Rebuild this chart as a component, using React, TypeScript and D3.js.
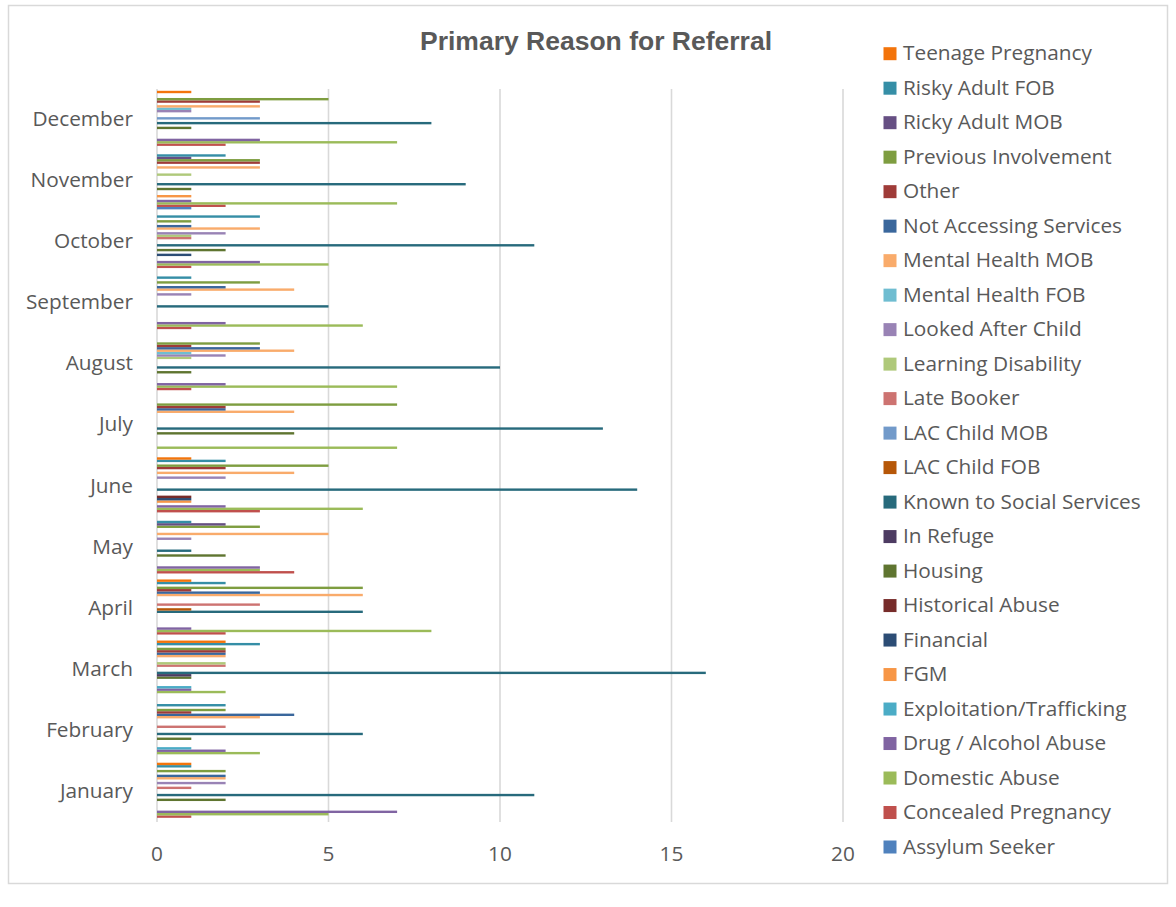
import React from 'react';
import * as d3 from 'd3';

// ---------- DATA ----------
const months = ['January', 'February', 'March', 'April', 'May', 'June', 'July', 'August', 'September', 'October', 'November', 'December'];

// Series in chart order (first series drawn at the bottom of each month group)
const seriesNames = [
  'Assylum Seeker', 'Concealed Pregnancy', 'Domestic Abuse', 'Drug / Alcohol Abuse',
  'Exploitation/Trafficking', 'FGM', 'Financial', 'Historical Abuse', 'Housing', 'In Refuge',
  'Known to Social Services', 'LAC Child FOB', 'LAC Child MOB', 'Late Booker', 'Learning Disability',
  'Looked After Child', 'Mental Health FOB', 'Mental Health MOB', 'Not Accessing Services', 'Other',
  'Previous Involvement', 'Ricky Adult MOB', 'Risky Adult FOB', 'Teenage Pregnancy',
];

//                          Jan Feb Mar Apr May Jun Jul Aug Sep Oct Nov Dec
const assylumSeeker       = [0, 0, 0, 0, 0, 0, 0, 0, 0, 0, 1, 0];
const concealedPregnancy  = [1, 0, 0, 2, 4, 3, 0, 1, 1, 1, 2, 2];
const domesticAbuse       = [5, 3, 2, 8, 3, 6, 7, 7, 6, 5, 7, 7];
const drugAlcoholAbuse    = [7, 2, 1, 1, 3, 2, 0, 2, 2, 3, 1, 3];
const exploitation        = [0, 1, 1, 0, 0, 0, 0, 0, 0, 0, 0, 0];
const fgm                 = [0, 0, 0, 0, 0, 1, 0, 0, 0, 0, 1, 0];
const financial           = [0, 0, 0, 0, 0, 1, 0, 0, 0, 1, 0, 0];
const historicalAbuse     = [0, 0, 0, 0, 0, 1, 0, 0, 0, 0, 0, 0];
const housing             = [2, 1, 1, 0, 2, 0, 4, 1, 0, 2, 1, 1];
const inRefuge            = [0, 0, 1, 0, 0, 0, 0, 0, 0, 0, 0, 0];
const knownToSocial       = [11, 6, 16, 6, 1, 14, 13, 10, 5, 11, 9, 8];
const lacChildFob         = [0, 0, 0, 1, 0, 0, 0, 0, 0, 0, 0, 0];
const lacChildMob         = [0, 0, 0, 0, 0, 0, 0, 0, 0, 0, 0, 3];
const lateBooker          = [1, 2, 2, 3, 0, 0, 0, 0, 0, 1, 0, 0];
const learningDisability  = [0, 0, 2, 0, 0, 0, 0, 1, 0, 1, 1, 0];
const lookedAfterChild    = [2, 0, 0, 0, 1, 2, 0, 2, 1, 2, 0, 1];
const mentalHealthFob     = [0, 0, 0, 0, 0, 0, 0, 1, 0, 0, 0, 1];
const mentalHealthMob     = [2, 3, 2, 6, 5, 4, 4, 4, 4, 3, 3, 3];
const notAccessing        = [2, 4, 2, 3, 0, 0, 2, 3, 2, 1, 0, 0];
const other               = [0, 1, 2, 1, 0, 2, 2, 1, 0, 0, 3, 3];
const previousInvolvement = [2, 2, 2, 6, 3, 5, 7, 3, 3, 1, 3, 5];
const rickyAdultMob       = [0, 0, 0, 0, 2, 0, 0, 0, 0, 0, 1, 0];
const riskyAdultFob       = [1, 2, 3, 2, 1, 2, 0, 0, 1, 3, 2, 0];
const teenagePregnancy    = [1, 0, 2, 1, 0, 1, 0, 0, 0, 0, 0, 1];

const seriesValues = [
  assylumSeeker, concealedPregnancy, domesticAbuse, drugAlcoholAbuse, exploitation, fgm,
  financial, historicalAbuse, housing, inRefuge, knownToSocial, lacChildFob,
  lacChildMob, lateBooker, learningDisability, lookedAfterChild, mentalHealthFob, mentalHealthMob,
  notAccessing, other, previousInvolvement, rickyAdultMob, riskyAdultFob, teenagePregnancy,
];

const xTicks = [0, 5, 10, 15, 20];
const title = 'Primary Reason for Referral';

// ---------- STYLE ----------
const accents = ['#4F81BD', '#C0504D', '#9BBB59', '#8064A2', '#4BACC6', '#F79646'];
function seriesColor(i: number): string {
  const c = d3.hsl(accents[i % 6]);
  const tier = Math.floor(i / 6);
  if (tier === 1) c.l = c.l * 0.6;
  else if (tier === 2) c.l = c.l * 0.8 + 0.2;
  else if (tier === 3) c.l = c.l * 0.8;
  return c.formatHex();
}

const W = 1176;
const H = 907;
const textColor = '#595959';
const gridColor = '#D9D9D9';
const font = '"Open Sans", sans-serif';
const fs = 20.8;

export default function App() {
  const x = d3.scaleLinear().domain([0, 20]).range([157, 843]);
  const y = d3.scaleBand<string>().domain([...months].reverse()).range([89, 822]);
  const inner = d3
    .scaleBand<string>()
    .domain([...seriesNames].reverse())
    .range([0, y.bandwidth()])
    .paddingInner(0)
    .paddingOuter(0.75);

  const legendNames = [...seriesNames].reverse();
  const legendY = d3.scalePoint<string>().domain(legendNames).range([53.7, 847]);

  return (
    <div style={{ position: 'absolute', left: 0, top: 0 }}>
      <svg width={W} height={H} style={{ display: 'block', background: '#fff' }}>
        <rect x={8.5} y={5.5} width={1159} height={878} fill="#fff" stroke={gridColor} strokeWidth={1.5} />
        <text
          x={596}
          y={41}
          textAnchor="middle"
          dominantBaseline="central"
          fontFamily='"Liberation Sans", Arial, sans-serif'
          fontWeight="bold"
          fontSize={26.5}
          fill={textColor}
        >
          {title}
        </text>

        {/* gridlines */}
        {xTicks.map((t) => (
          <line key={t} x1={x(t)} x2={x(t)} y1={89} y2={822} stroke={gridColor} strokeWidth={1.6} />
        ))}

        {/* bars */}
        {months.map((m, mi) => (
          <g key={m}>
            {seriesNames.map((s, si) => {
              const v = seriesValues[si][mi];
              if (!v) return null;
              return (
                <rect
                  key={s}
                  x={x(0)}
                  y={(y(m) as number) + (inner(s) as number)}
                  width={x(v) - x(0)}
                  height={inner.bandwidth()}
                  fill={seriesColor(si)}
                />
              );
            })}
          </g>
        ))}

        {/* category labels */}
        {months.map((m) => (
          <text
            key={m}
            x={133}
            y={(y(m) as number) + y.bandwidth() / 2 - 1.5}
            textAnchor="end"
            dominantBaseline="central"
            fontFamily={font}
            fontSize={fs}
            fill={textColor}
          >
            {m}
          </text>
        ))}

        {/* value axis labels */}
        {xTicks.map((t) => (
          <text
            key={t}
            x={x(t)}
            y={852.5}
            textAnchor="middle"
            dominantBaseline="central"
            fontFamily={font}
            fontSize={fs}
            fill={textColor}
          >
            {t}
          </text>
        ))}

        {/* legend */}
        {legendNames.map((n) => {
          const si = seriesNames.indexOf(n);
          const cy = legendY(n) as number;
          return (
            <g key={n}>
              <rect x={883.5} y={cy - 6.5} width={13} height={13} fill={seriesColor(si)} />
              <text x={903} y={cy - 1.5} dominantBaseline="central" fontFamily={font} fontSize={fs} fill={textColor}>
                {n}
              </text>
            </g>
          );
        })}
      </svg>
    </div>
  );
}
